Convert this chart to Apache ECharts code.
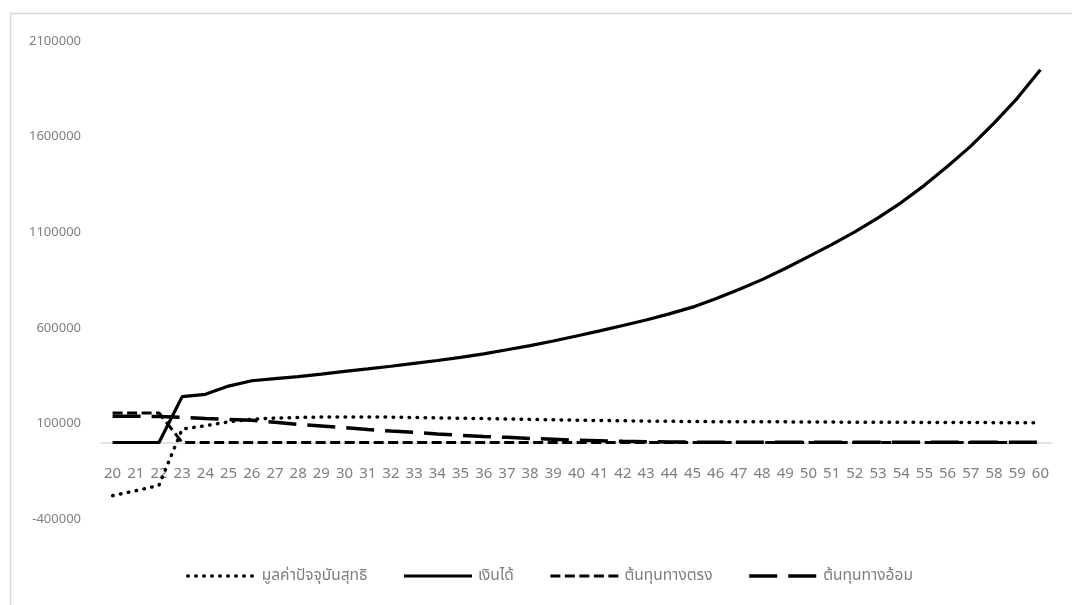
<!DOCTYPE html>
<html>
<head>
<meta charset="utf-8">
<script src="https://cdn.jsdelivr.net/npm/echarts@6/dist/echarts.min.js"></script>
<style>
  html, body { margin: 0; padding: 0; background: #ffffff; }
  #chart { width: 1072px; height: 605px; }
</style>
</head>
<body>
<div id="chart"></div>
<script>
// Age (years)
const ages = [
  20, 21, 22, 23, 24, 25, 26, 27, 28, 29, 30, 31, 32, 33, 34, 35, 36, 37, 38, 39, 40,
  41, 42, 43, 44, 45, 46, 47, 48, 49, 50, 51, 52, 53, 54, 55, 56, 57, 58, 59, 60
];

// มูลค่าปัจจุบันสุทธิ (net present value)
const npv = [
  -278000, -252000, -224000, 70000, 88000, 108000, 122000, 128000, 131000, 133000, 134000,
  134000, 133000, 131000, 129000, 127000, 125000, 123000, 121000, 119000, 117000,
  115000, 114000, 112000, 111000, 110000, 109000, 109000, 108000, 108000, 107000,
  107000, 106000, 106000, 106000, 105000, 105000, 105000, 104000, 104000, 104000
];

// เงินได้ (earnings)
const income = [
  0, 0, 0, 240000, 252000, 295000, 323000, 334000, 345000, 358000, 372000,
  385000, 399000, 414000, 429000, 445000, 464000, 485000, 507000, 531000, 557000,
  584000, 612000, 641000, 673000, 708000, 752000, 800000, 852000, 910000, 972000,
  1035000, 1102000, 1175000, 1255000, 1345000, 1445000, 1550000, 1670000, 1800000, 1950000
];

// ต้นทุนทางตรง (direct cost)
const directCost = [
  155000, 155000, 155000, 0, 0, 0, 0, 0, 0, 0, 0,
  0, 0, 0, 0, 0, 0, 0, 0, 0, 0,
  0, 0, 0, 0, 0, 0, 0, 0, 0, 0,
  0, 0, 0, 0, 0, 0, 0, 0, 0, 0
];

// ต้นทุนทางอ้อม (indirect cost)
const indirectCost = [
  138000, 137000, 136000, 132000, 126000, 121000, 116000, 106000, 95000, 87000, 78000,
  68000, 60000, 53000, 45000, 38000, 31000, 27000, 21000, 17000, 12000,
  9000, 6000, 4000, 3000, 2000, 2000, 2000, 2000, 1000, 1000,
  1000, 1000, 1000, 1000, 1000, 1000, 1000, 1000, 1000, 1000
];

const seriesNames = ['มูลค่าปัจจุบันสุทธิ', 'เงินได้', 'ต้นทุนทางตรง', 'ต้นทุนทางอ้อม'];

const FONT = '"Noto Sans", "Noto Sans Thai", "Liberation Sans", sans-serif';
const GREY_TEXT = '#7f7f7f';

const Y_MIN = -400000;
const Y_MAX = 2100000;
const GRID = { left: 101, right: 20, top: 41, bottom: 86, outerBoundsMode: 'none', containLabel: false };
const PLOT_H = 605 - GRID.top - GRID.bottom;
// distance from the grid bottom up to the value-zero line
const zeroOffset = PLOT_H * (0 - Y_MIN) / (Y_MAX - Y_MIN);

function lineSeries(name, data, lineStyle, z) {
  return {
    name: name,
    type: 'line',
    data: data,
    symbol: 'none',
    showSymbol: false,
    z: z,
    lineStyle: Object.assign({ color: '#000000' }, lineStyle),
    itemStyle: { color: '#000000' },
    emphasis: { disabled: true },
    animation: false
  };
}

const chart = echarts.init(document.getElementById('chart'), null, { renderer: 'canvas' });

chart.setOption({
  backgroundColor: '#ffffff',
  animation: false,
  textStyle: { fontFamily: FONT },
  graphic: [{
    type: 'rect',
    silent: true,
    z: -10,
    shape: { x: 10.5, y: 13.5, width: 1075, height: 610 },
    style: { fill: 'none', stroke: '#d9d9d9', lineWidth: 1.5 }
  }],
  grid: GRID,
  legend: {
    left: 181,
    top: 563,
    itemWidth: 68,
    itemHeight: 16,
    itemGap: 35,
    itemStyle: { opacity: 0 },
    lineStyle: { width: 'inherit' },
    textStyle: { color: GREY_TEXT, fontSize: 15.5, fontFamily: FONT, padding: [0, 0, 0, 1] },
    data: seriesNames
  },
  xAxis: {
    type: 'category',
    data: ages,
    boundaryGap: true,
    position: 'bottom',
    offset: -zeroOffset,
    axisLine: { onZero: false, lineStyle: { color: '#d9d9d9', width: 1.5 } },
    axisTick: { show: false },
    splitLine: { show: false },
    axisLabel: { color: GREY_TEXT, fontSize: 15, margin: 24, interval: 0, fontFamily: FONT }
  },
  yAxis: {
    type: 'value',
    min: Y_MIN,
    max: Y_MAX,
    interval: 500000,
    axisLine: { show: false },
    axisTick: { show: false },
    splitLine: { show: false },
    axisLabel: {
      color: GREY_TEXT, fontSize: 13, margin: 20, fontFamily: FONT,
      formatter: function (v) { return String(v); }
    }
  },
  series: [
    lineSeries(seriesNames[0], npv, { width: 3.5, type: [0.5, 7.5], cap: 'round' }, 4),
    lineSeries(seriesNames[1], income, { width: 3.2, type: 'solid' }, 3),
    lineSeries(seriesNames[2], directCost, { width: 3, type: [10, 4.5] }, 2),
    lineSeries(seriesNames[3], indirectCost, { width: 3.5, type: [28, 11] }, 1)
  ]
});
</script>
</body>
</html>
